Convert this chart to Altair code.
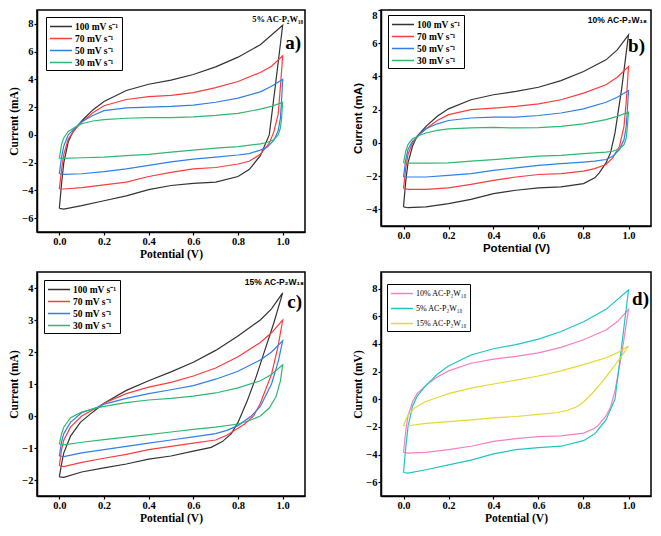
import altair as alt
import pandas as pd

# ---------------- data ----------------
RATES = ["100 mV s⁻¹", "70 mV s⁻¹", "50 mV s⁻¹", "30 mV s⁻¹"]
RATE_COLORS = ["#333333", "#ff3b3b", "#2f7fe8", "#2eb872"]

# Panel a: 5% AC-P2W18
A_100_V = [0, 0.01, 0.02, 0.04, 0.06, 0.1, 0.15, 0.2, 0.3, 0.4, 0.5, 0.6, 0.7, 0.8, 0.9, 1.0,
           0.97, 0.94, 0.9, 0.87, 0.85, 0.8, 0.7, 0.6, 0.5, 0.4, 0.3, 0.2, 0.1, 0.02, 0.0]
A_100_I = [-5.3, -3.5, -2.0, -0.5, 0.2, 1.0, 1.8, 2.4, 3.2, 3.65, 3.95, 4.35, 4.9, 5.6, 6.5, 7.9,
           3.9, 0.0, -1.5, -2.1, -2.5, -3.0, -3.4, -3.5, -3.65, -3.95, -4.4, -4.75, -5.1, -5.35, -5.3]
A_70_V = [0, 0.01, 0.02, 0.04, 0.07, 0.1, 0.15, 0.2, 0.3, 0.4, 0.5, 0.6, 0.7, 0.8, 0.9, 0.95, 1.0,
          0.99, 0.98, 0.96, 0.94, 0.9, 0.85, 0.8, 0.7, 0.6, 0.5, 0.4, 0.3, 0.2, 0.1, 0.02, 0.0]
A_70_I = [-3.9, -2.5, -1.4, -0.3, 0.4, 0.9, 1.6, 2.1, 2.55, 2.75, 2.85, 3.05, 3.4, 3.85, 4.5, 4.95, 5.7,
          3.5, 1.5, 0.2, -0.6, -1.4, -1.9, -2.1, -2.35, -2.45, -2.7, -3.0, -3.4, -3.6, -3.8, -3.9, -3.9]
A_50_V = [0, 0.01, 0.02, 0.04, 0.07, 0.1, 0.15, 0.2, 0.3, 0.4, 0.5, 0.6, 0.7, 0.8, 0.9, 0.95, 1.0,
          0.995, 0.99, 0.98, 0.96, 0.93, 0.9, 0.85, 0.8, 0.7, 0.6, 0.5, 0.4, 0.3, 0.2, 0.1, 0.02, 0.0]
A_50_I = [-2.8, -1.6, -0.8, 0.0, 0.5, 0.95, 1.4, 1.75, 1.95, 2.0, 2.05, 2.15, 2.35, 2.65, 3.1, 3.5, 4.0,
          2.5, 1.2, 0.3, -0.4, -0.9, -1.1, -1.35, -1.45, -1.6, -1.75, -1.95, -2.2, -2.45, -2.65, -2.8, -2.85, -2.8]
A_30_V = [0, 0.01, 0.02, 0.04, 0.07, 0.1, 0.15, 0.2, 0.3, 0.4, 0.5, 0.6, 0.7, 0.8, 0.9, 0.95, 1.0,
          0.995, 0.99, 0.98, 0.96, 0.93, 0.9, 0.8, 0.7, 0.6, 0.5, 0.4, 0.3, 0.2, 0.1, 0.02, 0.0]
A_30_I = [-1.7, -0.7, -0.2, 0.25, 0.55, 0.8, 1.0, 1.1, 1.2, 1.25, 1.25, 1.3, 1.4, 1.55, 1.85, 2.05, 2.35,
          1.2, 0.5, 0.0, -0.35, -0.55, -0.65, -0.85, -0.95, -1.1, -1.25, -1.4, -1.5, -1.6, -1.65, -1.7, -1.7]

# Panel b: 10% AC-P2W18
B_100_V = [0, 0.01, 0.02, 0.04, 0.06, 0.1, 0.15, 0.2, 0.3, 0.4, 0.5, 0.6, 0.7, 0.8, 0.9, 0.95, 1.0,
           0.97, 0.94, 0.92, 0.9, 0.87, 0.85, 0.8, 0.7, 0.6, 0.5, 0.4, 0.3, 0.2, 0.1, 0.02, 0.0]
B_100_I = [-3.85, -2.3, -1.2, -0.2, 0.4, 1.0, 1.6, 2.05, 2.6, 2.9, 3.1, 3.35, 3.75, 4.3, 5.0, 5.6, 6.5,
           3.3, 0.6, -0.6, -1.2, -1.8, -2.1, -2.45, -2.65, -2.7, -2.85, -3.05, -3.4, -3.65, -3.85, -3.9, -3.85]
B_70_V = [0, 0.01, 0.02, 0.04, 0.07, 0.1, 0.15, 0.2, 0.3, 0.4, 0.5, 0.6, 0.7, 0.8, 0.9, 0.95, 1.0,
          0.99, 0.98, 0.96, 0.93, 0.9, 0.85, 0.8, 0.7, 0.6, 0.5, 0.4, 0.3, 0.2, 0.1, 0.02, 0.0]
B_70_I = [-2.75, -1.5, -0.7, 0.0, 0.5, 0.85, 1.35, 1.7, 2.0, 2.1, 2.2, 2.35, 2.6, 3.0, 3.5, 3.95, 4.6,
          2.5, 1.0, -0.2, -0.9, -1.3, -1.55, -1.7, -1.85, -1.9, -2.05, -2.25, -2.5, -2.7, -2.8, -2.8, -2.75]
B_50_V = [0, 0.01, 0.02, 0.04, 0.07, 0.1, 0.15, 0.2, 0.3, 0.4, 0.5, 0.6, 0.7, 0.8, 0.9, 0.95, 1.0,
          0.995, 0.99, 0.98, 0.96, 0.93, 0.9, 0.85, 0.8, 0.7, 0.6, 0.5, 0.4, 0.3, 0.2, 0.1, 0.02, 0.0]
B_50_I = [-2.05, -1.0, -0.4, 0.1, 0.5, 0.85, 1.15, 1.35, 1.5, 1.55, 1.55, 1.65, 1.8, 2.05, 2.45, 2.75, 3.15,
          2.0, 1.0, 0.2, -0.4, -0.8, -1.0, -1.1, -1.15, -1.25, -1.35, -1.5, -1.65, -1.85, -1.95, -2.05, -2.05, -2.05]
B_30_V = [0, 0.01, 0.02, 0.04, 0.07, 0.1, 0.15, 0.2, 0.3, 0.4, 0.5, 0.6, 0.7, 0.8, 0.9, 0.95, 1.0,
          0.995, 0.99, 0.98, 0.96, 0.93, 0.9, 0.8, 0.7, 0.6, 0.5, 0.4, 0.3, 0.2, 0.1, 0.02, 0.0]
B_30_I = [-1.2, -0.5, -0.1, 0.25, 0.45, 0.6, 0.75, 0.85, 0.9, 0.93, 0.9, 0.92, 1.0, 1.15, 1.4, 1.6, 1.85,
          1.0, 0.3, -0.1, -0.35, -0.5, -0.55, -0.65, -0.75, -0.8, -0.9, -1.0, -1.1, -1.2, -1.22, -1.22, -1.2]

# Panel c: 15% AC-P2W18
C_100_V = [0, 0.01, 0.02, 0.05, 0.094, 0.137, 0.173, 0.2, 0.3, 0.4, 0.5, 0.6, 0.7, 0.8, 0.9, 0.95, 1.0,
           0.96, 0.92, 0.88, 0.84, 0.8, 0.77, 0.73, 0.68, 0.6, 0.5, 0.4, 0.3, 0.2, 0.1, 0.02, 0.0]
C_100_I = [-1.9, -1.5, -1.15, -0.63, -0.2, 0.05, 0.25, 0.4, 0.8, 1.1, 1.38, 1.68, 2.05, 2.5, 3.0, 3.35, 3.85,
           2.9, 2.05, 1.2, 0.45, -0.2, -0.55, -0.8, -0.98, -1.1, -1.25, -1.35, -1.5, -1.62, -1.75, -1.92, -1.9]
C_70_V = [0, 0.01, 0.02, 0.05, 0.1, 0.173, 0.2, 0.3, 0.4, 0.5, 0.6, 0.7, 0.8, 0.9, 0.95, 1.0,
          0.98, 0.95, 0.9, 0.87, 0.83, 0.8, 0.75, 0.7, 0.6, 0.5, 0.4, 0.3, 0.2, 0.1, 0.02, 0.0]
C_70_I = [-1.55, -1.05, -0.75, -0.35, 0.0, 0.28, 0.4, 0.7, 0.9, 1.05, 1.25, 1.5, 1.85, 2.3, 2.6, 3.0,
          2.2, 1.3, 0.4, 0.0, -0.25, -0.38, -0.6, -0.75, -0.85, -0.95, -1.05, -1.2, -1.32, -1.45, -1.58, -1.55]
C_50_V = [0, 0.01, 0.02, 0.05, 0.1, 0.173, 0.2, 0.3, 0.4, 0.5, 0.6, 0.7, 0.8, 0.9, 0.95, 1.0,
          0.98, 0.95, 0.9, 0.86, 0.8, 0.75, 0.7, 0.6, 0.5, 0.4, 0.3, 0.2, 0.1, 0.02, 0.0]
C_50_I = [-1.25, -0.8, -0.55, -0.2, 0.1, 0.28, 0.37, 0.55, 0.7, 0.82, 0.95, 1.15, 1.4, 1.75, 2.0, 2.35,
          1.7, 1.0, 0.3, 0.0, -0.3, -0.45, -0.55, -0.65, -0.75, -0.85, -0.95, -1.05, -1.15, -1.27, -1.25]
C_30_V = [0, 0.01, 0.02, 0.05, 0.1, 0.173, 0.2, 0.3, 0.4, 0.5, 0.6, 0.7, 0.8, 0.9, 0.95, 1.0,
          0.99, 0.97, 0.94, 0.9, 0.85, 0.8, 0.7, 0.6, 0.5, 0.4, 0.3, 0.2, 0.1, 0.02, 0.0]
C_30_I = [-0.88, -0.55, -0.35, -0.05, 0.12, 0.26, 0.3, 0.42, 0.5, 0.55, 0.62, 0.72, 0.88, 1.1, 1.3, 1.6,
          1.1, 0.6, 0.25, 0.0, -0.15, -0.25, -0.35, -0.42, -0.5, -0.58, -0.66, -0.74, -0.82, -0.9, -0.88]

# Panel d: comparison at 100 mV/s
D_NAMES = ["10% AC-P₂W₁₈", "5% AC-P₂W₁₈", "15% AC-P₂W₁₈"]
D_COLORS = ["#f77fc0", "#1cc6c6", "#e6d830"]

X_TICKS = [0.0, 0.2, 0.4, 0.6, 0.8, 1.0]
SERIF = "Liberation Serif"
SANS = "Liberation Sans"
LINE_SYMBOL = "M-1,0L3,0"


def make_df(names, curves):
    rows = []
    for name, (vs, cs) in zip(names, curves):
        for k, (v, c) in enumerate(zip(vs, cs)):
            rows.append({"series": name, "V": v, "I": c, "k": k})
    return pd.DataFrame(rows)


def panel(names, colors, curves, width, height, ydom, yticks, ytitle, title_font,
          leg_x, leg_y, leg_font, leg_weight, leg_rowpad, tag, tag_xy, note, note_font, note_xy,
          flush=False):
    df = make_df(names, curves)
    lines = alt.Chart(df).mark_line(strokeWidth=1.2, clip=True).encode(
        x=alt.X("V:Q", scale=alt.Scale(domain=[-0.1, 1.1], nice=False, zero=False),
                axis=alt.Axis(values=X_TICKS, format=".1f", title="Potential (V)",
                              titleFont=title_font)),
        y=alt.Y("I:Q", scale=alt.Scale(domain=ydom, nice=False, zero=False),
                axis=alt.Axis(values=yticks, format="d", title=ytitle, titleFont=title_font,
                              labelFlush=flush)),
        color=alt.Color("series:N", sort=names,
                        scale=alt.Scale(domain=names, range=colors),
                        legend=alt.Legend(title=None, orient="none", legendX=leg_x, legendY=leg_y,
                                          symbolType=LINE_SYMBOL, symbolStrokeWidth=1.5,
                                          symbolSize=121, labelOffset=13, labelFont=SERIF,
                                          labelFontWeight=leg_weight, labelFontSize=leg_font,
                                          labelColor="black", strokeColor="black",
                                          fillColor="white", padding=3, rowPadding=leg_rowpad,
                                          labelLimit=200)),
        order="k:Q",
    )
    layers = [lines]
    tag_df = pd.DataFrame({"t": [tag]})
    layers.append(alt.Chart(tag_df).mark_text(font=SERIF, fontWeight="bold", fontSize=19,
                                              align="right", baseline="middle", color="black").encode(
        text="t:N", x=alt.value(tag_xy[0]), y=alt.value(tag_xy[1])))
    if note:
        note_df = pd.DataFrame({"t": [note]})
        layers.append(alt.Chart(note_df).mark_text(font=note_font, fontWeight="bold", fontSize=8.5,
                                                   align="right", baseline="middle", color="black").encode(
            text="t:N", x=alt.value(note_xy[0]), y=alt.value(note_xy[1])))
    return alt.layer(*layers).properties(width=width, height=height)


pa = panel(RATES, RATE_COLORS,
           [(A_100_V, A_100_I), (A_70_V, A_70_I), (A_50_V, A_50_I), (A_30_V, A_30_I)],
           268, 222, [-7, 9], [-6, -4, -2, 0, 2, 4, 6, 8], "Current (mA)", SERIF,
           9, 7, 9.5, "bold", 1, "a)", (264, 33), "5% AC-P₂W₁₈", SERIF, (266, 9))
pb = panel(RATES, RATE_COLORS,
           [(B_100_V, B_100_I), (B_70_V, B_70_I), (B_50_V, B_50_I), (B_30_V, B_30_I)],
           270, 216, [-5, 8], [-4, -2, 0, 2, 4, 6, 8], "Current (mA)", SANS,
           7, 5, 9.5, "bold", 1, "b)", (264, 36), "10% AC-P₂W₁₈", SANS, (266, 10), flush=True)
pc = panel(RATES, RATE_COLORS,
           [(C_100_V, C_100_I), (C_70_V, C_70_I), (C_50_V, C_50_I), (C_30_V, C_30_I)],
           268, 224, [-2.5, 4.5], [-2, -1, 0, 1, 2, 3, 4], "Current (mA)", SERIF,
           7, 8, 9.5, "bold", 1, "c)", (265, 30), "15% AC-P₂W₁₈", SANS, (267, 10))
pd_ = panel(D_NAMES, D_COLORS,
            [(B_100_V, B_100_I), (A_100_V, A_100_I), (C_100_V, C_100_I)],
            270, 224, [-7, 9.2], [-6, -4, -2, 0, 2, 4, 6, 8], "Current (mV)", SERIF,
            6, 12, 8, "normal", 4, "d)", (268, 27), None, SERIF, (0, 0))

chart = alt.concat(pa, pb, pc, pd_, columns=2, spacing={"row": 10, "column": 46}).resolve_scale(
    color="independent"
).configure(
    padding=0, background="white"
).configure_view(
    stroke="black", strokeWidth=1.5
).configure_axis(
    grid=False, domainColor="black", domainWidth=1.5, tickColor="black", tickWidth=1.2,
    tickSize=3, labelColor="black", labelFont=SERIF, labelFontWeight="bold", labelFontSize=10.5,
    titleColor="black", titleFontWeight="bold", titleFontSize=11.5, labelPadding=1, titlePadding=2
)

chart.save("out.html", embed_options={"renderer": "svg", "actions": False})
